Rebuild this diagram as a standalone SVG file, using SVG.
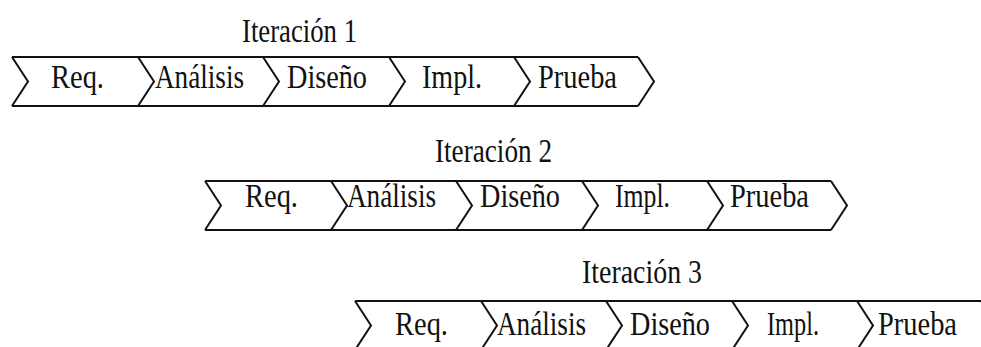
<svg xmlns="http://www.w3.org/2000/svg" width="981" height="347" viewBox="0 0 981 347">
  <defs>
    <style>
      .strip { fill: none; stroke: #111; stroke-width: 2; stroke-linejoin: miter; }
      .lbl { font-family: "Liberation Serif", "Times New Roman", serif; font-size: 33px; fill: #111; }
    </style>
    <!-- one iteration strip: top and bottom rails plus six chevron separators, 125px apart -->
    <path id="strip" class="strip" d="M0 0 H626 M0 49 H626
      M0 0 L16 24.5 L0 49
      M126 0 L142 24.5 L126 49
      M251 0 L267 24.5 L251 49
      M377 0 L393 24.5 L377 49
      M502 0 L518 24.5 L502 49
      M626 0 L642 24.5 L626 49"/>
  </defs>

  <rect width="981" height="347" fill="#fff"/>

  <!-- Iteration 1 -->
  <g id="iteracion-1">
    <use href="#strip" x="12" y="57"/>
    <text class="lbl" x="242" y="42" textLength="115" lengthAdjust="spacingAndGlyphs">Iteración 1</text>
    <g id="it1-req"><text class="lbl" x="51" y="88" textLength="53" lengthAdjust="spacingAndGlyphs">Req.</text></g>
    <g id="it1-analisis"><text class="lbl" x="155" y="88" textLength="89" lengthAdjust="spacingAndGlyphs">Análisis</text></g>
    <g id="it1-diseno"><text class="lbl" x="287" y="88" textLength="80" lengthAdjust="spacingAndGlyphs">Diseño</text></g>
    <g id="it1-impl"><text class="lbl" x="422" y="88" textLength="60" lengthAdjust="spacingAndGlyphs">Impl.</text></g>
    <g id="it1-prueba"><text class="lbl" x="538" y="88" textLength="79" lengthAdjust="spacingAndGlyphs">Prueba</text></g>
  </g>

  <!-- Iteration 2 -->
  <g id="iteracion-2">
    <use href="#strip" x="205" y="181"/>
    <text class="lbl" x="435" y="162" textLength="117" lengthAdjust="spacingAndGlyphs">Iteración 2</text>
    <g id="it2-req"><text class="lbl" x="245" y="207" textLength="53" lengthAdjust="spacingAndGlyphs">Req.</text></g>
    <g id="it2-analisis"><text class="lbl" x="347" y="207" textLength="89" lengthAdjust="spacingAndGlyphs">Análisis</text></g>
    <g id="it2-diseno"><text class="lbl" x="480" y="207" textLength="80" lengthAdjust="spacingAndGlyphs">Diseño</text></g>
    <g id="it2-impl"><text class="lbl" x="615" y="207" textLength="55" lengthAdjust="spacingAndGlyphs">Impl.</text></g>
    <g id="it2-prueba"><text class="lbl" x="730" y="207" textLength="79" lengthAdjust="spacingAndGlyphs">Prueba</text></g>
  </g>

  <!-- Iteration 3 -->
  <g id="iteracion-3">
    <use href="#strip" x="355" y="301"/>
    <text class="lbl" x="582" y="283" textLength="120" lengthAdjust="spacingAndGlyphs">Iteración 3</text>
    <g id="it3-req"><text class="lbl" x="395" y="335" textLength="53" lengthAdjust="spacingAndGlyphs">Req.</text></g>
    <g id="it3-analisis"><text class="lbl" x="497" y="335" textLength="89" lengthAdjust="spacingAndGlyphs">Análisis</text></g>
    <g id="it3-diseno"><text class="lbl" x="630" y="335" textLength="80" lengthAdjust="spacingAndGlyphs">Diseño</text></g>
    <g id="it3-impl"><text class="lbl" x="767" y="335" textLength="52" lengthAdjust="spacingAndGlyphs">Impl.</text></g>
    <g id="it3-prueba"><text class="lbl" x="878" y="335" textLength="79" lengthAdjust="spacingAndGlyphs">Prueba</text></g>
  </g>
</svg>
